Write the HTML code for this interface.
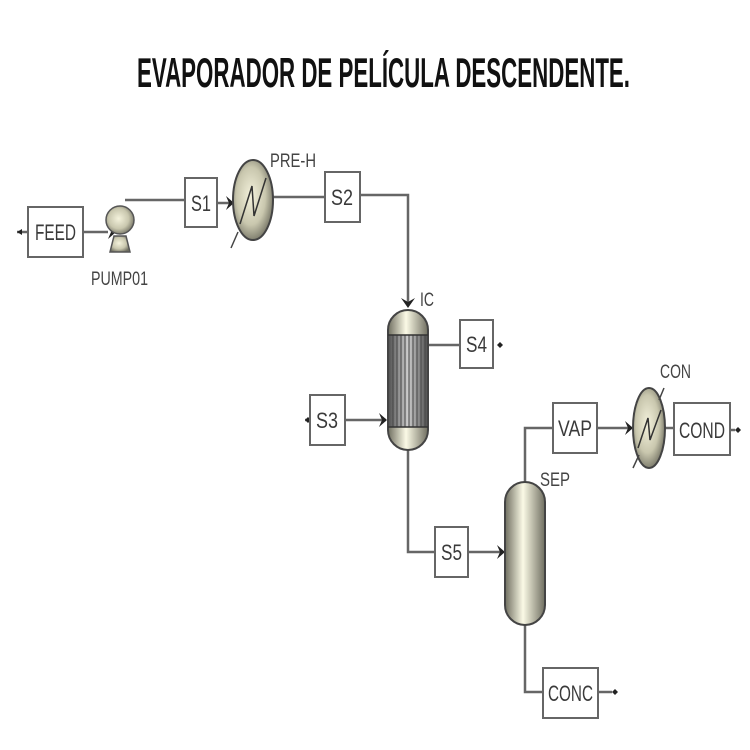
<!DOCTYPE html>
<html><head><meta charset="utf-8"><style>html,body{margin:0;padding:0;background:#fff}svg{display:block}</style></head>
<body>
<svg width="750" height="750" viewBox="0 0 750 750" xmlns="http://www.w3.org/2000/svg" font-family="Liberation Sans, sans-serif">
<defs>
<radialGradient id="g" cx="0.45" cy="0.45" r="0.6">
<stop offset="0" stop-color="#f4f2dc"/><stop offset="0.6" stop-color="#c9c7ae"/><stop offset="1" stop-color="#6f6e60"/>
</radialGradient>
<linearGradient id="v" x1="0" x2="1" y1="0" y2="0">
<stop offset="0" stop-color="#6f6e60"/><stop offset="0.45" stop-color="#fbfae6"/><stop offset="1" stop-color="#6f6e60"/>
</linearGradient>
<linearGradient id="t" x1="0" x2="1">
<stop offset="0" stop-color="#555"/><stop offset="0.5" stop-color="#ccc"/><stop offset="1" stop-color="#555"/>
</linearGradient>
</defs>
<text x="137" y="87" font-size="42" font-weight="bold" textLength="493" lengthAdjust="spacingAndGlyphs" fill="#111">EVAPORADOR DE PELÍCULA DESCENDENTE.</text>
<g stroke="#666" stroke-width="2.5" fill="none">
<path d="M17 232 H28"/><path d="M83 232 H108"/>
<path d="M125 200 H185"/><path d="M217 203 H234"/>
<path d="M272 197 H325"/><path d="M360 195 H408 V305"/>
<path d="M428 345 H460"/><path d="M345 420 H386"/>
<path d="M408 450 V552 H435"/><path d="M468 552 H503"/>
<path d="M525 484 V428 H553"/><path d="M597 428 H632"/><path d="M665 428 H674"/><path d="M730 430 H735"/>
<path d="M525 623 V692 H543"/><path d="M598 692 H612"/>
<path d="M310 420 H305"/>
</g>
<g fill="#222">
<path d="M108 225 L116 232 L108 239 L111 232Z"/>
<path d="M226 196 L234 203 L226 210 L229 203Z"/>
<path d="M401 298 L408 308 L415 298 L408 302Z"/>
<path d="M379 413 L387 420 L379 427 L382 420Z"/>
<path d="M497 545 L505 552 L497 559 L500 552Z"/>
<path d="M625 421 L633 428 L625 435 L628 428Z"/>
<path d="M17 232 l5 -3 v6z"/>
<path d="M497 345 l3 -3 3 3 -3 3z"/><path d="M305 420 l3 -3 3 3 -3 3z"/>
<path d="M735 430 l3 -3 3 3 -3 3z"/><path d="M612 692 l3 -3 3 3 -3 3z"/>
</g>
<g fill="#fff" stroke="#666" stroke-width="2">
<rect x="28" y="207" width="55" height="50"/>
<rect x="185" y="178" width="32" height="49"/>
<rect x="325" y="172" width="35" height="50"/>
<rect x="460" y="320" width="33" height="48"/>
<rect x="310" y="395" width="35" height="50"/>
<rect x="435" y="527" width="33" height="50"/>
<rect x="553" y="403" width="44" height="50"/>
<rect x="674" y="403" width="56" height="52"/>
<rect x="543" y="668" width="55" height="50"/>
</g>
<g font-size="22" fill="#3a3a3a" lengthAdjust="spacingAndGlyphs">
<text x="35" y="240" textLength="41" lengthAdjust="spacingAndGlyphs">FEED</text>
<text x="191" y="211" textLength="20" lengthAdjust="spacingAndGlyphs">S1</text>
<text x="331" y="205" textLength="22" lengthAdjust="spacingAndGlyphs">S2</text>
<text x="466" y="352" textLength="21" lengthAdjust="spacingAndGlyphs">S4</text>
<text x="316" y="428" textLength="22" lengthAdjust="spacingAndGlyphs">S3</text>
<text x="441" y="560" textLength="21" lengthAdjust="spacingAndGlyphs">S5</text>
<text x="558" y="436" textLength="34" lengthAdjust="spacingAndGlyphs">VAP</text>
<text x="679" y="438" textLength="46" lengthAdjust="spacingAndGlyphs">COND</text>
<text x="548" y="701" textLength="45" lengthAdjust="spacingAndGlyphs">CONC</text>
</g>
<g font-size="19" fill="#444">
<text x="91" y="285" textLength="57" lengthAdjust="spacingAndGlyphs">PUMP01</text>
<text x="270" y="167" textLength="46" lengthAdjust="spacingAndGlyphs">PRE-H</text>
<text x="420" y="306" textLength="14" lengthAdjust="spacingAndGlyphs">IC</text>
<text x="540" y="486" textLength="30" lengthAdjust="spacingAndGlyphs">SEP</text>
<text x="660" y="378" textLength="31" lengthAdjust="spacingAndGlyphs">CON</text>
</g>
<path d="M110 252 L114 236 H126 L130 252Z" fill="url(#g)" stroke="#555" stroke-width="1.5"/>
<circle cx="120" cy="220" r="14" fill="url(#g)" stroke="#555" stroke-width="1.5"/>
<ellipse cx="253" cy="200" rx="20" ry="40" fill="url(#g)" stroke="#444" stroke-width="2"/>
<path d="M240 224 L252 186 L254 216 L266 178" stroke="#333" stroke-width="1.5" fill="none"/>
<path d="M231 248 L238 232" stroke="#444" stroke-width="1.5"/>
<rect x="388" y="310" width="40" height="140" rx="20" fill="url(#v)" stroke="#444" stroke-width="2"/>
<rect x="389" y="335" width="38" height="92" fill="url(#t)"/>
<g stroke="#444" stroke-width="1"><path d="M393 335V427M397 335V427M401 335V427M405 335V427M409 335V427M413 335V427M417 335V427M421 335V427M425 335V427"/></g>
<path d="M388 335H428M388 427H428" stroke="#333" stroke-width="1.5"/>
<rect x="505" y="482" width="40" height="143" rx="20" fill="url(#v)" stroke="#444" stroke-width="2"/>
<ellipse cx="649" cy="428" rx="16" ry="40" fill="url(#g)" stroke="#444" stroke-width="2"/>
<path d="M638 448 L648 418 L650 440 L661 410" stroke="#333" stroke-width="1.5" fill="none"/>
<path d="M633 468 L639 455M659 400 L664 388" stroke="#444" stroke-width="1.5"/>
</svg>
</body></html>
